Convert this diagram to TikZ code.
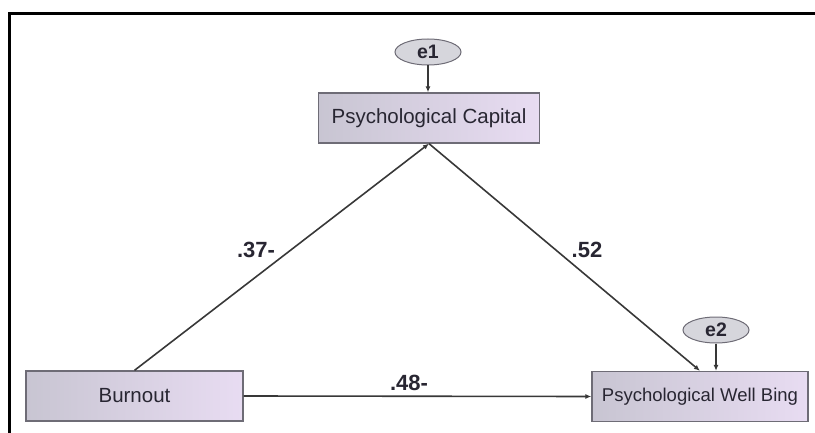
\documentclass[tikz,border=0pt]{standalone}
\usepackage{fontspec}
\setmainfont{Liberation Sans}
\usetikzlibrary{arrows.meta,shapes.geometric}
\definecolor{boxL}{RGB}{200,197,210}
\definecolor{boxR}{RGB}{232,220,242}
\definecolor{boxD}{RGB}{110,108,118}
\definecolor{ellF}{RGB}{214,214,220}
\definecolor{txt}{RGB}{40,38,50}
\tikzset{
  varbox/.style={draw=boxD, line width=1.3pt, left color=boxL, right color=boxR,
    minimum height=50pt, inner sep=0pt, text=txt, font=\fontsize{20.5}{24}\selectfont},
  errell/.style={ellipse, draw=boxD, line width=1pt, fill=ellF, minimum width=66pt,
    minimum height=26pt, inner sep=0pt, text=txt, font=\bfseries\fontsize{19.5}{22}\selectfont},
  path/.style={draw=black!78, line width=1.6pt, -{Latex[length=6pt,width=5pt]}},
  coef/.style={text=txt, font=\bfseries\fontsize{22}{24}\selectfont},
  frameline/.style={line width=3pt, black}
}
\begin{document}
\begin{tikzpicture}[x=1pt,y=-1pt]
\useasboundingbox (0,0) rectangle (815,433);
\draw[frameline] (815,13.5) -- (9.5,13.5) -- (9.5,433);
\node[varbox, minimum width=221pt] (pc) at (429,118) {Psychological Capital};
\node[varbox, minimum width=217pt] (bo) at (134.5,396) {Burnout};
\node[varbox, minimum width=216pt, font=\fontsize{18.5}{22}\selectfont] (pwb) at (700,396.5) {Psychological Well Bing};
\node[errell] (e1) at (428,52) {e1};
\node[errell] (e2) at (716,330) {e2};
\draw[path] (e1.south) -- (e1.south |- pc.north);
\draw[path] (e2.south) -- (e2.south |- pwb.north);
\draw[path] (bo.north) -- (pc.south);
\draw[path] (pc.south) -- (pwb.north);
\draw[path] (bo.east) -- (pwb.west);
\node[coef] (c1) at (256,250) {.37-};
\node[coef] (c2) at (587,250) {.52};
\node[coef] (c3) at (409,383) {.48-};
\end{tikzpicture}
\end{document}
